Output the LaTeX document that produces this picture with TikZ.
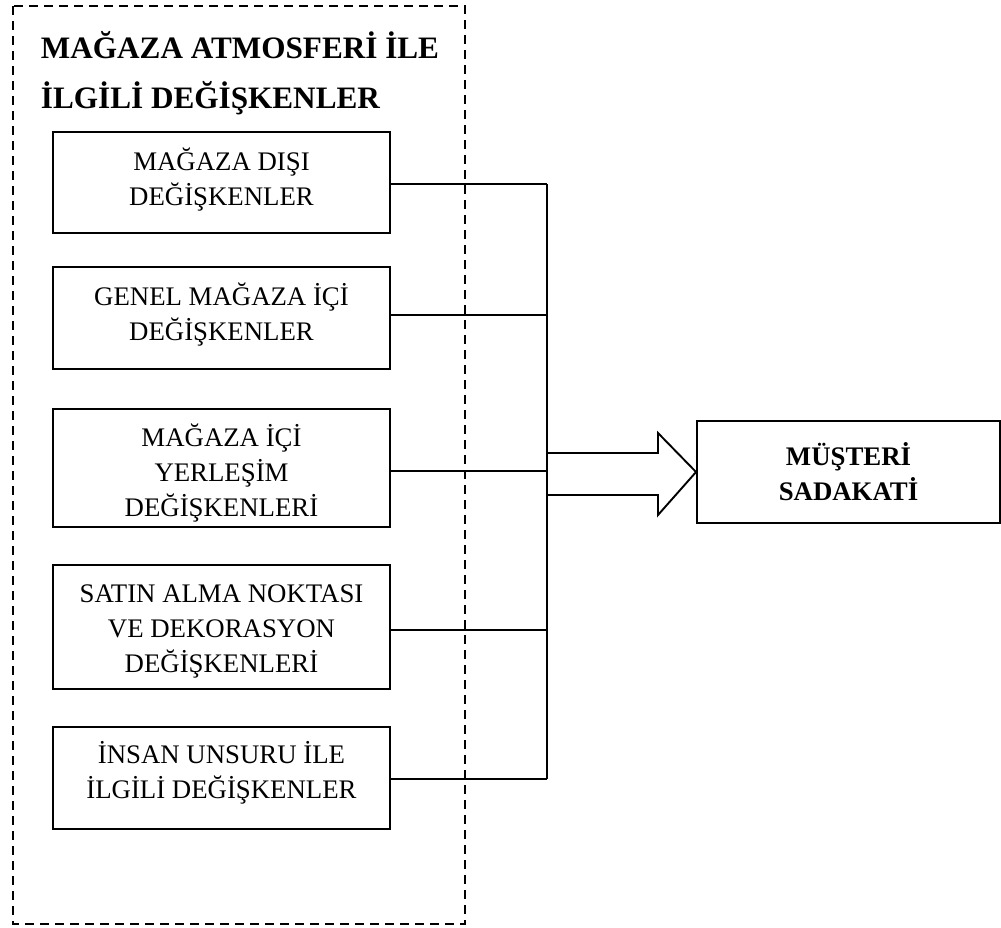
\documentclass[tikz,border=0pt]{standalone}
\usepackage{fontspec}
\setmainfont{Liberation Serif}
\begin{document}
\begin{tikzpicture}[x=1bp,y=-1bp,
  line width=1.9bp,
  itembox/.style={draw, minimum width=337bp, inner sep=0pt},
  itemtext/.style={align=center, inner sep=0pt,
    font=\fontsize{26.8bp}{35bp}\selectfont},
  resultbox/.style={draw, minimum width=303bp, minimum height=102bp, align=center, inner sep=0pt,
    font=\fontsize{26.8bp}{35bp}\selectfont\bfseries},
  titletext/.style={align=left, inner sep=0pt, anchor=north west,
    font=\fontsize{31.2bp}{50bp}\selectfont\bfseries},
  groupbox/.style={draw, dash pattern=on 9bp off 6bp, line width=1.8bp}]
\useasboundingbox (0,0) rectangle (1001,928);
\draw[groupbox] (13,6) rectangle (465,924);
\node[titletext] (title) at (40,30) {MAĞAZA ATMOSFERİ İLE\\İLGİLİ DEĞİŞKENLER};
\node[itembox, minimum height=101bp] (b1) at (221.5,182.5) {};
\node[itembox, minimum height=102bp] (b2) at (221.5,318) {};
\node[itembox, minimum height=118bp] (b3) at (221.5,468) {};
\node[itembox, minimum height=124bp] (b4) at (221.5,627) {};
\node[itembox, minimum height=102bp] (b5) at (221.5,778) {};
\node[itemtext] (t1) at (221.5,179.5) {MAĞAZA DIŞI\\DEĞİŞKENLER};
\node[itemtext] (t2) at (221.5,315) {GENEL MAĞAZA İÇİ\\DEĞİŞKENLER};
\node[itemtext] (t3) at (221.5,473) {MAĞAZA İÇİ\\YERLEŞİM\\DEĞİŞKENLERİ};
\node[itemtext] (t4) at (221.5,631) {SATIN ALMA NOKTASI\\VE DEKORASYON\\DEĞİŞKENLERİ};
\node[itemtext] (t5) at (221.5,773) {İNSAN UNSURU İLE\\İLGİLİ DEĞİŞKENLER};
\node[resultbox] (res) at (848.5,472) {MÜŞTERİ\\SADAKATİ};
\coordinate (vtop) at (547,184);
\coordinate (vbot) at (547,779);
\draw (vtop) -- (vbot);
\draw (b1.east |- vtop) -- (vtop);
\draw (b2.east) ++(0,-3) -- (547,315);
\draw (b3.east) ++(0,3) -- (547,471);
\draw (b4.east) ++(0,3) -- (547,630);
\draw (b5.east) ++(0,1) -- (vbot);
\coordinate (a1) at (547,453);
\coordinate (a7) at (547,495);
\draw[line join=miter] (a1) -- (658,453) -- (658,433) -- (res.west) -- (658,515) -- (658,495) -- (a7);
\end{tikzpicture}
\end{document}
